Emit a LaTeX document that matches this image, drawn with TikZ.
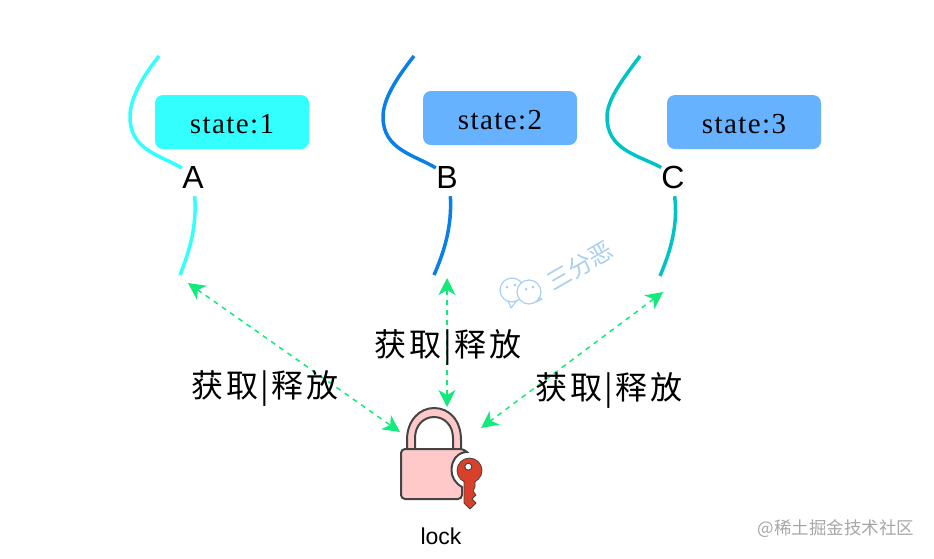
\documentclass[tikz,border=0pt]{standalone}
\usepackage{fontspec}
\usetikzlibrary{arrows.meta}
\setmainfont{Liberation Sans}
\newfontfamily\cjk{Noto Sans CJK SC}
\newfontfamily\cjkwide[LetterSpace=8]{Noto Sans CJK SC}
\newfontfamily\stateface[LetterSpace=5]{Liberation Serif}
\definecolor{threadA}{HTML}{33FFFF}
\definecolor{threadB}{HTML}{0A7FE8}
\definecolor{threadC}{HTML}{00C4C4}
\definecolor{boxblue}{HTML}{66B2FF}
\definecolor{arrowgreen}{HTML}{14EA7C}
\definecolor{lockpink}{HTML}{FFC9C9}
\definecolor{lockline}{HTML}{444444}
\definecolor{keyred}{HTML}{D9402A}
\definecolor{markblue}{HTML}{A8D0F0}
\tikzstyle{statebox}=[rounded corners=8pt,minimum width=154pt,minimum height=54pt,inner sep=0pt,text height=23pt,text depth=0pt,font=\stateface\fontsize{29}{29}\selectfont]
\tikzstyle{threadname}=[inner sep=0pt,minimum width=22pt,minimum height=38pt,font=\fontsize{32}{32}\selectfont]
\tikzstyle{thread}=[line width=3.5pt]
\tikzstyle{grab}=[arrowgreen,line width=1.5pt,dash pattern=on 5pt off 5pt,{Stealth[length=17pt,width=17pt,inset=5pt]}-{Stealth[length=17pt,width=17pt,inset=5pt]}]
\tikzstyle{grablabel}=[inner sep=0pt,font=\cjkwide\fontsize{32}{32}\selectfont]
\begin{document}
\begin{tikzpicture}[x=1pt,y=-1pt]
\useasboundingbox (0,0) rectangle (934,558);
% threads
\node [threadname] (A) at (193,177) {A};
\node [threadname] (B) at (447,177) {B};
\node [threadname] (C) at (673,177) {C};
\coordinate (Atop) at (159,56);
\coordinate (Aend) at (180,275);
\coordinate (Btop) at (414,56);
\coordinate (Bend) at (434,275);
\coordinate (Ctop) at (640,56);
\coordinate (Cend) at (660,276);
\draw [thread,threadA] (Atop) .. controls (140,80) and (130,100) .. (130,117) .. controls (130,150) and (160,155) .. (A.141);
\draw [thread,threadA] (A.-85) .. controls (197,225) and (190,250) .. (Aend);
\draw [thread,threadB] (Btop) .. controls (395,80) and (383,100) .. (383,117) .. controls (383,150) and (415,155) .. (B.141);
\draw [thread,threadB] (B.-80) .. controls (452,225) and (445,250) .. (Bend);
\draw [thread,threadC] (Ctop) .. controls (622,80) and (607,100) .. (607,117) .. controls (607,150) and (638,155) .. (C.141);
\draw [thread,threadC] (C.-85) .. controls (678,225) and (671,250) .. (Cend);
% states
\node [statebox,fill=threadA] (state1) at (232,122) {state:1};
\node [statebox,fill=boxblue] (state2) at (500,118) {state:2};
\node [statebox,fill=boxblue] (state3) at (744,122) {state:3};
% lock
\filldraw [lockpink,draw=lockline,line width=2pt,even odd rule] (407,450) -- (407,440) .. controls (407,420) and (420,408) .. (434,408) .. controls (449,408) and (461,420) .. (461,440) -- (461,450) -- cycle (415,449) -- (453,449) -- (453,438) .. controls (453,426) and (445,417) .. (434,417) .. controls (423,417) and (415,426) .. (415,438) -- cycle;
\filldraw [lockpink,draw=lockline,line width=2pt] (462,487) [rounded corners=4pt] -- (462,499) -- (401,499) -- (401,449) -- (464,449) [sharp corners] -- (467,452) .. controls (458,452) and (451.5,460) .. (451.5,470) .. controls (451.5,477) and (455,483) .. (462,487) -- cycle;
\filldraw [keyred,draw=lockline,line width=.8pt,line join=round] (464,481) -- (464,503) -- (470,509) -- (476,503) -- (472,499) -- (476,495) -- (473,491) -- (475,487) -- (475,481) -- cycle;
\filldraw [keyred,draw=lockline,line width=.8pt] (469.5,470.5) circle (12.5pt);
\fill [keyred] (465,480) rectangle (474,486);
\filldraw [white,draw=lockline,line width=1pt] (468.3,466.7) circle (3.5pt);
\node [inner sep=0pt,font=\fontsize{23}{23}\selectfont] (lock) at (441,536) {lock};
\coordinate (lockA) at (400,432);
\coordinate (lockB) at (447,407);
\coordinate (lockC) at (481,428);
\coordinate (grabA) at (188,283);
\coordinate (grabB) at (447,278);
\coordinate (grabC) at (663,292);
\draw [grab] (grabA) -- (lockA);
\draw [grab] (grabB) -- (lockB);
\draw [grab] (grabC) -- (lockC);
\node [grablabel] (labelA) at (265,388) {获取|释放};
\node [grablabel] (labelB) at (448,347) {获取|释放};
\node [grablabel] (labelC) at (609,390) {获取|释放};
% marks
\draw [markblue,line width=1.2pt,fill=white] (512,290) circle (12pt);
\draw [markblue,line width=1.2pt,line join=round] (508,300) -- (511,308) -- (517,300);
\draw [markblue,line width=1.2pt,fill=white] (529,292) circle (12pt);
\draw [markblue,line width=1.2pt,line join=round] (538,298) -- (542,299) -- (536,302);
\fill [markblue] (507,287) circle (1.5pt) (515,285) circle (1.5pt) (526,289) circle (1.5pt) (533,287) circle (1.5pt);
\node [inner sep=0pt,rotate=30,text=markblue,font=\cjk\fontsize{24}{24}\selectfont] (mark) at (580,266) {三分恶};
\node [inner sep=0pt,text=black!35,font=\cjk\fontsize{17.5}{17.5}\selectfont] (site) at (836,529) {@稀土掘金技术社区};
\end{tikzpicture}
\end{document}
